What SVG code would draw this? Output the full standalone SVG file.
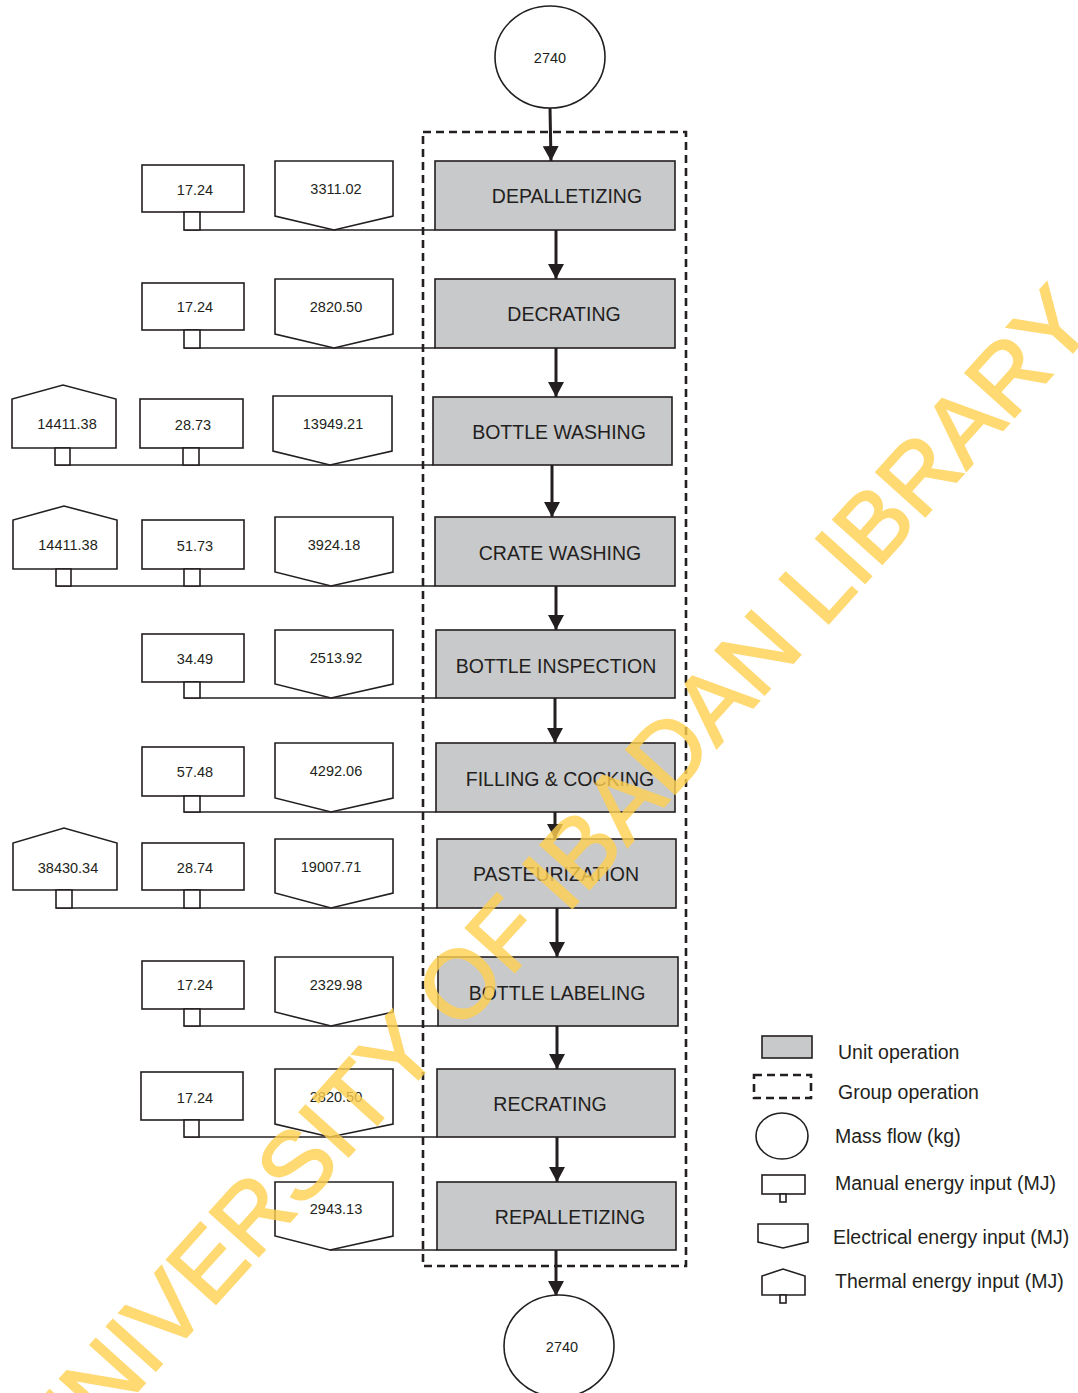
<svg xmlns="http://www.w3.org/2000/svg" width="1078" height="1393" viewBox="0 0 1078 1393">
<style>
.u{fill:#c8c9cb;stroke:#231f20;stroke-width:1.6}
.b{fill:#fff;stroke:#231f20;stroke-width:1.6}
.ln{fill:none;stroke:#231f20;stroke-width:1.6}
.ar{fill:none;stroke:#231f20;stroke-width:3}
.ut{font-family:"Liberation Sans",Arial,sans-serif;font-size:19.5px;fill:#231f20;text-anchor:middle}
.vt{font-family:"Liberation Sans",Arial,sans-serif;font-size:14.5px;fill:#231f20;text-anchor:middle}
.lt{font-family:"Liberation Sans",Arial,sans-serif;font-size:19.5px;fill:#231f20}
.dash{fill:none;stroke:#231f20;stroke-width:2.6;stroke-dasharray:8 5}
</style>
<defs>
<marker id="ah" markerUnits="userSpaceOnUse" markerWidth="16" markerHeight="16" refX="15" refY="8" orient="auto">
<path d="M0,0 L15,8 L0,16 Z" fill="#231f20"/>
</marker>
</defs>
<rect width="1078" height="1393" fill="#fff"/>

<rect id="group-operation" class="dash" x="423" y="132" width="263" height="1134"/>

<g id="connectors">
<line class="ar" x1="550" y1="108" x2="551" y2="161" marker-end="url(#ah)"/>
<line class="ar" x1="556" y1="230" x2="556" y2="279" marker-end="url(#ah)"/>
<line class="ar" x1="556" y1="348" x2="556" y2="397" marker-end="url(#ah)"/>
<line class="ar" x1="552" y1="465" x2="552" y2="517" marker-end="url(#ah)"/>
<line class="ar" x1="556" y1="586" x2="556" y2="630" marker-end="url(#ah)"/>
<line class="ar" x1="555" y1="698" x2="555" y2="743" marker-end="url(#ah)"/>
<line class="ar" x1="555" y1="812" x2="555" y2="839" marker-end="url(#ah)"/>
<line class="ar" x1="557" y1="908" x2="557" y2="957" marker-end="url(#ah)"/>
<line class="ar" x1="557" y1="1026" x2="557" y2="1069" marker-end="url(#ah)"/>
<line class="ar" x1="557" y1="1137" x2="557" y2="1182" marker-end="url(#ah)"/>
<line class="ar" x1="556" y1="1250" x2="556" y2="1296" marker-end="url(#ah)"/>
<line class="ln" x1="184" y1="230" x2="435" y2="230"/>
<line class="ln" x1="184" y1="348" x2="435" y2="348"/>
<line class="ln" x1="55" y1="465" x2="433" y2="465"/>
<line class="ln" x1="56" y1="586" x2="435" y2="586"/>
<line class="ln" x1="184" y1="698" x2="436" y2="698"/>
<line class="ln" x1="184" y1="812" x2="436" y2="812"/>
<line class="ln" x1="56" y1="908" x2="437" y2="908"/>
<line class="ln" x1="184" y1="1026" x2="438" y2="1026"/>
<line class="ln" x1="184" y1="1137" x2="437" y2="1137"/>
<line class="ln" x1="330" y1="1250" x2="437" y2="1250"/>
</g>

<g id="mass-in">
<ellipse class="b" cx="550" cy="57" rx="55" ry="51"/>
<text class="vt" x="550" y="63">2740</text>
</g>
<g id="mass-out">
<ellipse class="b" cx="559" cy="1346" rx="55" ry="51"/>
<text class="vt" x="562" y="1352">2740</text>
</g>

<g id="depalletizing">
<rect class="u" x="435" y="161" width="240" height="69"/>
<text class="ut" x="567" y="203">DEPALLETIZING</text>
<rect class="b" x="142" y="165" width="102" height="47"/>
<rect class="b" x="184" y="212" width="16" height="18"/>
<text class="vt" x="195" y="195">17.24</text>
<path class="b" d="M275,161 H393 V216 L334,230 L275,216 Z"/>
<text class="vt" x="336" y="194">3311.02</text>
</g>

<g id="decrating">
<rect class="u" x="435" y="279" width="240" height="69"/>
<text class="ut" x="564" y="321">DECRATING</text>
<rect class="b" x="142" y="283" width="102" height="47"/>
<rect class="b" x="184" y="330" width="16" height="18"/>
<text class="vt" x="195" y="312">17.24</text>
<path class="b" d="M275,279 H393 V334 L334,348 L275,334 Z"/>
<text class="vt" x="336" y="312">2820.50</text>
</g>

<g id="bottle-washing">
<rect class="u" x="433" y="397" width="239" height="68"/>
<text class="ut" x="559" y="439">BOTTLE WASHING</text>
<path class="b" d="M12,448 V399 L63,385 L116,399 V448 Z"/>
<rect class="b" x="55" y="448" width="15" height="17"/>
<text class="vt" x="67" y="429">14411.38</text>
<rect class="b" x="140" y="399" width="103" height="49"/>
<rect class="b" x="183" y="448" width="16" height="17"/>
<text class="vt" x="193" y="430">28.73</text>
<path class="b" d="M273,396 H392 V451 L330,465 L273,451 Z"/>
<text class="vt" x="333" y="429">13949.21</text>
</g>

<g id="crate-washing">
<rect class="u" x="435" y="517" width="240" height="69"/>
<text class="ut" x="560" y="560">CRATE WASHING</text>
<path class="b" d="M13,569 V520 L64,506 L117,520 V569 Z"/>
<rect class="b" x="56" y="569" width="15" height="17"/>
<text class="vt" x="68" y="550">14411.38</text>
<rect class="b" x="142" y="520" width="102" height="49"/>
<rect class="b" x="184" y="569" width="16" height="17"/>
<text class="vt" x="195" y="551">51.73</text>
<path class="b" d="M275,517 H393 V572 L331,586 L275,572 Z"/>
<text class="vt" x="334" y="550">3924.18</text>
</g>

<g id="bottle-inspection">
<rect class="u" x="436" y="630" width="239" height="68"/>
<text class="ut" x="556" y="673">BOTTLE INSPECTION</text>
<rect class="b" x="142" y="634" width="102" height="48"/>
<rect class="b" x="184" y="682" width="16" height="16"/>
<text class="vt" x="195" y="664">34.49</text>
<path class="b" d="M275,630 H393 V684 L331,698 L275,684 Z"/>
<text class="vt" x="336" y="663">2513.92</text>
</g>

<g id="filling-cocking">
<rect class="u" x="436" y="743" width="239" height="69"/>
<text class="ut" x="560" y="786">FILLING &amp; COCKING</text>
<rect class="b" x="142" y="747" width="102" height="49"/>
<rect class="b" x="184" y="796" width="16" height="16"/>
<text class="vt" x="195" y="777">57.48</text>
<path class="b" d="M275,743 H393 V798 L331,812 L275,798 Z"/>
<text class="vt" x="336" y="776">4292.06</text>
</g>

<g id="pasteurization">
<rect class="u" x="437" y="839" width="239" height="69"/>
<text class="ut" x="556" y="881">PASTEURIZATION</text>
<path class="b" d="M13,890 V843 L64,828 L117,843 V890 Z"/>
<rect class="b" x="56" y="890" width="16" height="18"/>
<text class="vt" x="68" y="873">38430.34</text>
<rect class="b" x="142" y="843" width="102" height="47"/>
<rect class="b" x="184" y="890" width="16" height="18"/>
<text class="vt" x="195" y="873">28.74</text>
<path class="b" d="M275,839 H393 V893 L331,908 L275,893 Z"/>
<text class="vt" x="331" y="872">19007.71</text>
</g>

<g id="bottle-labeling">
<rect class="u" x="438" y="957" width="240" height="69"/>
<text class="ut" x="557" y="1000">BOTTLE LABELING</text>
<rect class="b" x="142" y="961" width="102" height="48"/>
<rect class="b" x="184" y="1009" width="16" height="17"/>
<text class="vt" x="195" y="990">17.24</text>
<path class="b" d="M275,957 H393 V1012 L331,1026 L275,1012 Z"/>
<text class="vt" x="336" y="990">2329.98</text>
</g>

<g id="recrating">
<rect class="u" x="437" y="1069" width="238" height="68"/>
<text class="ut" x="550" y="1111">RECRATING</text>
<rect class="b" x="141" y="1072" width="102" height="48"/>
<rect class="b" x="184" y="1120" width="15" height="17"/>
<text class="vt" x="195" y="1103">17.24</text>
<path class="b" d="M275,1069 H393 V1124 L330,1137 L275,1124 Z"/>
<text class="vt" x="336" y="1102">2820.50</text>
</g>

<g id="repalletizing">
<rect class="u" x="437" y="1182" width="239" height="68"/>
<text class="ut" x="570" y="1224">REPALLETIZING</text>
<path class="b" d="M275,1182 H393 V1236 L330,1250 L275,1236 Z"/>
<text class="vt" x="336" y="1214">2943.13</text>
</g>

<g id="legend">
<rect class="u" x="762" y="1036" width="50" height="22"/>
<text class="lt" x="838" y="1059">Unit operation</text>
<rect class="dash" x="754" y="1075" width="57" height="23" stroke-width="2"/>
<text class="lt" x="838" y="1099">Group operation</text>
<ellipse class="b" cx="782" cy="1136" rx="26" ry="23"/>
<text class="lt" x="835" y="1143">Mass flow (kg)</text>
<rect class="b" x="762" y="1175" width="43" height="19"/>
<rect class="b" x="780" y="1194" width="6" height="8"/>
<text class="lt" x="835" y="1190">Manual energy input (MJ)</text>
<path class="b" d="M758,1224 H808 V1242 L783,1248 L758,1242 Z"/>
<text class="lt" x="833" y="1244">Electrical energy input (MJ)</text>
<path class="b" d="M762,1295 V1276 L783,1269 L805,1276 V1295 Z"/>
<rect class="b" x="780" y="1295" width="6" height="8"/>
<text class="lt" x="835" y="1288">Thermal energy input (MJ)</text>
</g>

<text id="watermark" transform="translate(552,880) rotate(-48)" x="0" y="34" font-family="'Liberation Sans',Arial,sans-serif" font-size="96" fill="#FFD050" stroke="#FFD050" stroke-width="2" opacity="0.8" text-anchor="middle">UNIVERSITY OF IBADAN LIBRARY</text>
</svg>
